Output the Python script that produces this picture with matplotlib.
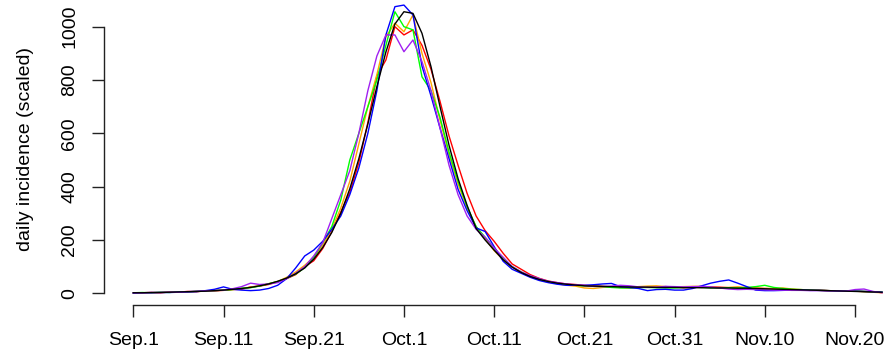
import matplotlib
matplotlib.use("Agg")
import matplotlib.pyplot as plt
import numpy as np

plt.rcParams['font.family'] = ['Liberation Sans', 'DejaVu Sans']

days = np.arange(84)
tick_days = [0, 10, 20, 30, 40, 50, 60, 70, 80]
tick_labels = ["Sep.1", "Sep.11", "Sep.21", "Oct.1", "Oct.11", "Oct.21", "Oct.31", "Nov.10", "Nov.20"]
y_ticks = [0, 200, 400, 600, 800, 1000]
y_label = "daily incidence (scaled)"

black = [2, 2, 3, 3, 4, 5, 6, 7, 8, 10,
         12, 15, 18, 22, 28, 35, 45, 57, 73, 95,
         128, 172, 228, 300, 392, 505, 635, 775, 905, 1010,
         1056, 1050, 975, 850, 700, 555, 430, 330, 243, 200,
         162, 126, 98, 78, 63, 52, 44, 38, 34, 31,
         28, 27, 26, 25, 24, 24, 23, 23, 22, 22,
         22, 21, 21, 21, 20, 20, 20, 19, 19, 18,
         17, 16, 15, 14, 13, 12, 11, 10, 9, 8,
         7, 6, 5, 4]

red = [1, 2, 3, 2, 5, 4, 7, 6, 9, 9,
       11, 14, 15, 24, 27, 33, 43, 55, 70, 100,
       122, 168, 232, 305, 378, 490, 640, 815, 875, 1000,
       969, 988, 930, 840, 720, 590, 480, 375, 290, 235,
       195, 150, 110, 90, 70, 56, 46, 40, 35, 33,
       30, 28, 26, 24, 22, 20, 22, 24, 23, 25,
       24, 21, 23, 22, 24, 23, 21, 22, 20, 19,
       18, 17, 16, 14, 13, 12, 12, 10, 9, 8,
       8, 7, 5, 3]

green = [2, 3, 2, 4, 3, 6, 5, 8, 9, 10,
         12, 14, 19, 21, 27, 36, 44, 56, 72, 96,
         135, 190, 250, 350, 500, 600, 700, 800, 930, 1056,
         1000, 988, 812, 760, 660, 530, 420, 325, 250, 210,
         170, 130, 100, 80, 64, 53, 44, 37, 33, 30,
         28, 26, 25, 22, 20, 20, 21, 22, 21, 20,
         20, 22, 23, 22, 21, 20, 21, 20, 22, 25,
         30, 22, 18, 15, 14, 12, 11, 10, 9, 8,
         8, 7, 6, 4]

blue = [1, 2, 2, 3, 3, 4, 5, 6, 10, 15,
        24, 15, 12, 10, 12, 18, 30, 55, 95, 140,
        162, 195, 240, 290, 370, 470, 600, 760, 969, 1075,
        1081, 1044, 852, 740, 620, 505, 390, 310, 245, 232,
        175, 120, 90, 75, 60, 48, 40, 34, 30, 30,
        30, 32, 35, 37, 25, 22, 18, 10, 14, 15,
        12, 12, 18, 28, 38, 45, 50, 38, 25, 12,
        10, 10, 11, 12, 12, 11, 11, 10, 9, 8,
        8, 7, 6, 4]

purple = [2, 2, 3, 3, 4, 4, 6, 8, 9, 10,
          12, 17, 25, 38, 33, 35, 40, 55, 75, 100,
          140, 190, 280, 370, 460, 600, 760, 890, 969, 969,
          906, 950, 869, 760, 620, 480, 370, 290, 240, 210,
          170, 135, 100, 80, 66, 55, 45, 40, 35, 32,
          29, 26, 25, 27, 30, 28, 24, 22, 23, 26,
          25, 24, 25, 26, 24, 20, 16, 14, 15, 14,
          13, 12, 12, 11, 11, 10, 10, 9, 9, 8,
          14, 16, 7, 2]

orange = [2, 2, 2, 3, 4, 5, 5, 7, 8, 10,
          12, 14, 18, 23, 28, 36, 44, 60, 80, 105,
          135, 180, 240, 320, 420, 560, 700, 820, 962, 1013,
          981, 1044, 900, 790, 650, 520, 410, 320, 250, 205,
          160, 125, 98, 78, 62, 50, 42, 36, 30, 27,
          20, 18, 22, 24, 24, 22, 25, 27, 28, 25,
          24, 25, 26, 26, 23, 21, 22, 24, 22, 20,
          18, 18, 20, 16, 14, 12, 11, 10, 9, 8,
          8, 6, 4, 2]

series = [(red, "#FF0000"), (orange, "#FFA500"), (green, "#00FF00"),
          (blue, "#0000FF"), (purple, "#A020F0"), (black, "#000000")]

W, H = 887, 354
fig = plt.figure(figsize=(W / 100, H / 100), dpi=100)
ax = fig.add_axes([104 / W, 49 / H, (W - 104) / W, 305 / H])

for vals, col in series:
    ax.plot(days, vals, color=col, linewidth=1.0)

ax.set_xlim(-3.25, 83.55)
ax.set_ylim(-43.9, 1100)

for s in ["top", "right"]:
    ax.spines[s].set_visible(False)
ax.spines["left"].set_bounds(0, 1000)
ax.spines["bottom"].set_bounds(0, 80)
for s in ["left", "bottom"]:
    ax.spines[s].set_linewidth(1.0)
    ax.spines[s].set_color("#222222")

ax.set_xticks(tick_days)
ax.set_xticklabels(tick_labels)
ax.set_yticks(y_ticks)
ax.set_yticklabels([str(v) for v in y_ticks], rotation=90, va="center")
ax.tick_params(axis="both", direction="out", length=8.6, width=1.0, color="#222222",
               labelsize=14, labelcolor="#000000")
ax.tick_params(axis="x", pad=11)
ax.tick_params(axis="y", pad=10)

fig.text(26 / W, 1 - 149 / H, y_label, rotation=90, ha="center", va="center", fontsize=14)

fig.savefig("out.png", dpi=100)
